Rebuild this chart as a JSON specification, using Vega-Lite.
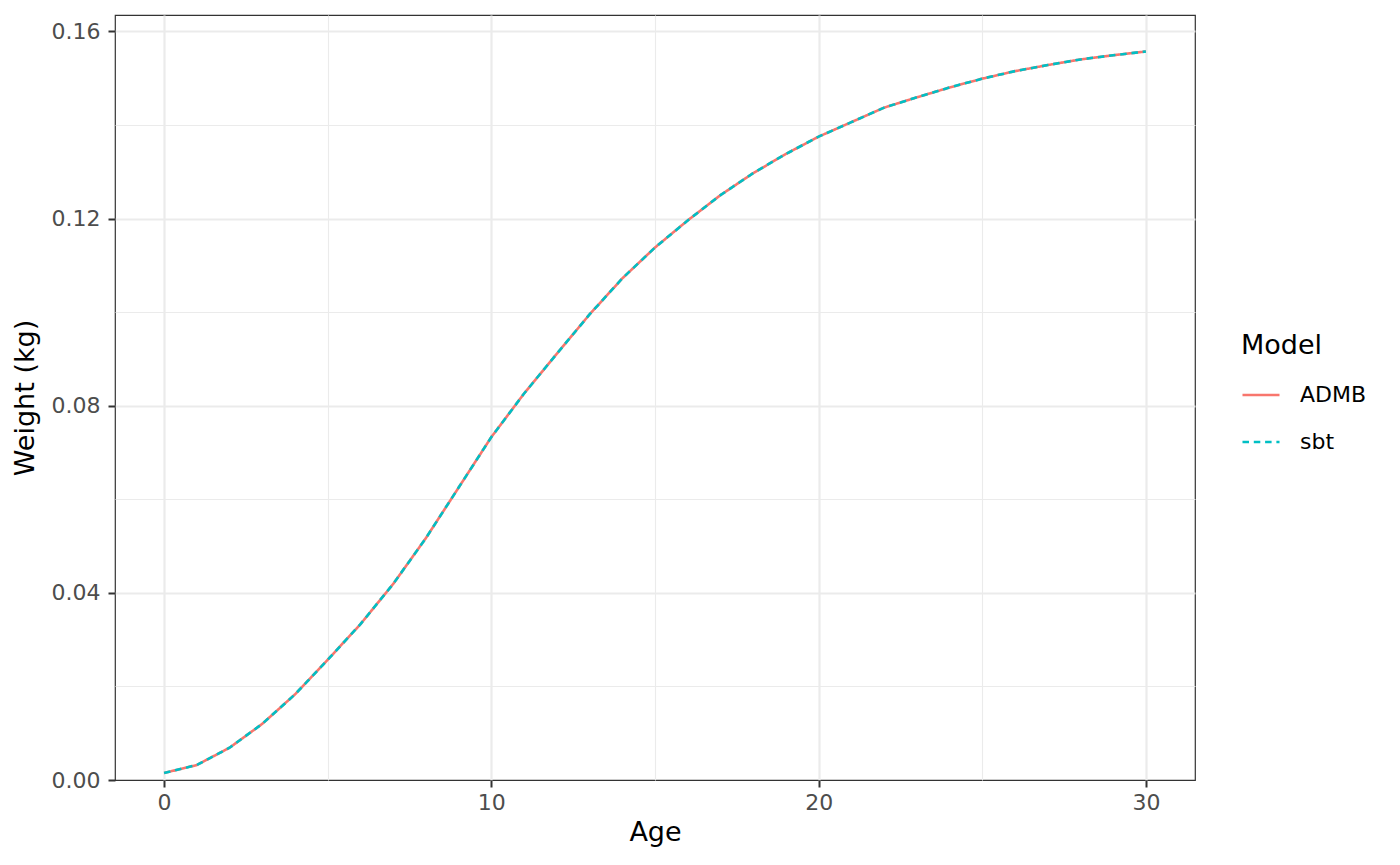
{
  "$schema": "https://vega.github.io/schema/vega-lite/v6.json",
  "width": 1080,
  "height": 765,
  "autosize": {"type": "none"},
  "padding": {"left": 115, "top": 15, "right": 205, "bottom": 85},
  "background": "white",
  "config": {
    "font": "DejaVu Sans",
    "view": {"stroke": "#333333", "strokeWidth": 1.2},
    "axis": {
      "domain": false,
      "labelFontSize": 22,
      "labelColor": "#4D4D4D",
      "titleFontSize": 27,
      "titleFontWeight": "normal",
      "titleColor": "black",
      "tickColor": "#333333",
      "tickSize": 7,
      "tickWidth": 2,
      "gridColor": "#EBEBEB"
    },
    "legend": {
      "titleFontSize": 27,
      "titleFontWeight": "normal",
      "titleColor": "black",
      "labelFontSize": 22,
      "labelColor": "black"
    }
  },
  "data": {
    "values": [
      {"Age": 0, "Weight": 0.0015, "Model": "ADMB"},
      {"Age": 1, "Weight": 0.0032, "Model": "ADMB"},
      {"Age": 2, "Weight": 0.0069, "Model": "ADMB"},
      {"Age": 3, "Weight": 0.0120, "Model": "ADMB"},
      {"Age": 4, "Weight": 0.0183, "Model": "ADMB"},
      {"Age": 5, "Weight": 0.0257, "Model": "ADMB"},
      {"Age": 6, "Weight": 0.0333, "Model": "ADMB"},
      {"Age": 7, "Weight": 0.0419, "Model": "ADMB"},
      {"Age": 8, "Weight": 0.0517, "Model": "ADMB"},
      {"Age": 9, "Weight": 0.0625, "Model": "ADMB"},
      {"Age": 10, "Weight": 0.0733, "Model": "ADMB"},
      {"Age": 11, "Weight": 0.0826, "Model": "ADMB"},
      {"Age": 12, "Weight": 0.0911, "Model": "ADMB"},
      {"Age": 13, "Weight": 0.0995, "Model": "ADMB"},
      {"Age": 14, "Weight": 0.1072, "Model": "ADMB"},
      {"Age": 15, "Weight": 0.1138, "Model": "ADMB"},
      {"Age": 16, "Weight": 0.1196, "Model": "ADMB"},
      {"Age": 17, "Weight": 0.1250, "Model": "ADMB"},
      {"Age": 18, "Weight": 0.1297, "Model": "ADMB"},
      {"Age": 19, "Weight": 0.1338, "Model": "ADMB"},
      {"Age": 20, "Weight": 0.1375, "Model": "ADMB"},
      {"Age": 21, "Weight": 0.1406, "Model": "ADMB"},
      {"Age": 22, "Weight": 0.1437, "Model": "ADMB"},
      {"Age": 23, "Weight": 0.1459, "Model": "ADMB"},
      {"Age": 24, "Weight": 0.1480, "Model": "ADMB"},
      {"Age": 25, "Weight": 0.1499, "Model": "ADMB"},
      {"Age": 26, "Weight": 0.1515, "Model": "ADMB"},
      {"Age": 27, "Weight": 0.1528, "Model": "ADMB"},
      {"Age": 28, "Weight": 0.1540, "Model": "ADMB"},
      {"Age": 29, "Weight": 0.1549, "Model": "ADMB"},
      {"Age": 30, "Weight": 0.1557, "Model": "ADMB"},
      {"Age": 0, "Weight": 0.0015, "Model": "sbt"},
      {"Age": 1, "Weight": 0.0032, "Model": "sbt"},
      {"Age": 2, "Weight": 0.0069, "Model": "sbt"},
      {"Age": 3, "Weight": 0.0120, "Model": "sbt"},
      {"Age": 4, "Weight": 0.0183, "Model": "sbt"},
      {"Age": 5, "Weight": 0.0257, "Model": "sbt"},
      {"Age": 6, "Weight": 0.0333, "Model": "sbt"},
      {"Age": 7, "Weight": 0.0419, "Model": "sbt"},
      {"Age": 8, "Weight": 0.0517, "Model": "sbt"},
      {"Age": 9, "Weight": 0.0625, "Model": "sbt"},
      {"Age": 10, "Weight": 0.0733, "Model": "sbt"},
      {"Age": 11, "Weight": 0.0826, "Model": "sbt"},
      {"Age": 12, "Weight": 0.0911, "Model": "sbt"},
      {"Age": 13, "Weight": 0.0995, "Model": "sbt"},
      {"Age": 14, "Weight": 0.1072, "Model": "sbt"},
      {"Age": 15, "Weight": 0.1138, "Model": "sbt"},
      {"Age": 16, "Weight": 0.1196, "Model": "sbt"},
      {"Age": 17, "Weight": 0.1250, "Model": "sbt"},
      {"Age": 18, "Weight": 0.1297, "Model": "sbt"},
      {"Age": 19, "Weight": 0.1338, "Model": "sbt"},
      {"Age": 20, "Weight": 0.1375, "Model": "sbt"},
      {"Age": 21, "Weight": 0.1406, "Model": "sbt"},
      {"Age": 22, "Weight": 0.1437, "Model": "sbt"},
      {"Age": 23, "Weight": 0.1459, "Model": "sbt"},
      {"Age": 24, "Weight": 0.1480, "Model": "sbt"},
      {"Age": 25, "Weight": 0.1499, "Model": "sbt"},
      {"Age": 26, "Weight": 0.1515, "Model": "sbt"},
      {"Age": 27, "Weight": 0.1528, "Model": "sbt"},
      {"Age": 28, "Weight": 0.1540, "Model": "sbt"},
      {"Age": 29, "Weight": 0.1549, "Model": "sbt"},
      {"Age": 30, "Weight": 0.1557, "Model": "sbt"}
    ]
  },
  "mark": {"type": "line", "strokeWidth": 2.6, "strokeCap": "butt"},
  "encoding": {
    "x": {
      "field": "Age",
      "type": "quantitative",
      "title": "Age",
      "scale": {"domain": [-1.5, 31.5], "nice": false, "zero": false},
      "axis": {
        "values": [0, 5, 10, 15, 20, 25, 30],
        "labelExpr": "datum.value % 10 === 0 ? datum.label : ''",
        "labelPadding": 5,
        "titlePadding": 6,
        "tickOpacity": {"condition": {"test": "datum.value % 10 === 0", "value": 1}, "value": 0},
        "gridWidth": {"condition": {"test": "datum.value % 10 === 0", "value": 2.2}, "value": 1.1}
      }
    },
    "y": {
      "field": "Weight",
      "type": "quantitative",
      "title": "Weight (kg)",
      "scale": {"domain": [0, 0.1635], "nice": false},
      "axis": {
        "values": [0, 0.02, 0.04, 0.06, 0.08, 0.1, 0.12, 0.14, 0.16],
        "format": ".2f",
        "labelExpr": "abs(round(datum.value / 0.04) * 0.04 - datum.value) < 1e-6 ? datum.label : ''",
        "labelPadding": 8,
        "titlePadding": 12,
        "tickOpacity": {"condition": {"test": "abs(round(datum.value / 0.04) * 0.04 - datum.value) < 1e-6", "value": 1}, "value": 0},
        "gridOpacity": {"condition": {"test": "datum.value === 0", "value": 0}, "value": 1},
        "gridWidth": {"condition": {"test": "abs(round(datum.value / 0.04) * 0.04 - datum.value) < 1e-6", "value": 2.2}, "value": 1.1}
      }
    },
    "color": {
      "field": "Model",
      "type": "nominal",
      "title": "Model",
      "scale": {"domain": ["ADMB", "sbt"], "range": ["#F8766D", "#00BFC4"]},
      "legend": {
        "orient": "none",
        "legendX": 1126,
        "legendY": 318,
        "padding": 0,
        "titlePadding": 15,
        "rowPadding": 16,
        "symbolType": "stroke",
        "symbolSize": 1370,
        "symbolStrokeWidth": 2.6,
        "labelOffset": 19
      }
    },
    "strokeDash": {
      "field": "Model",
      "type": "nominal",
      "title": "Model",
      "scale": {"domain": ["ADMB", "sbt"], "range": [[1, 0], [6.5, 4.8]]}
    }
  }
}
